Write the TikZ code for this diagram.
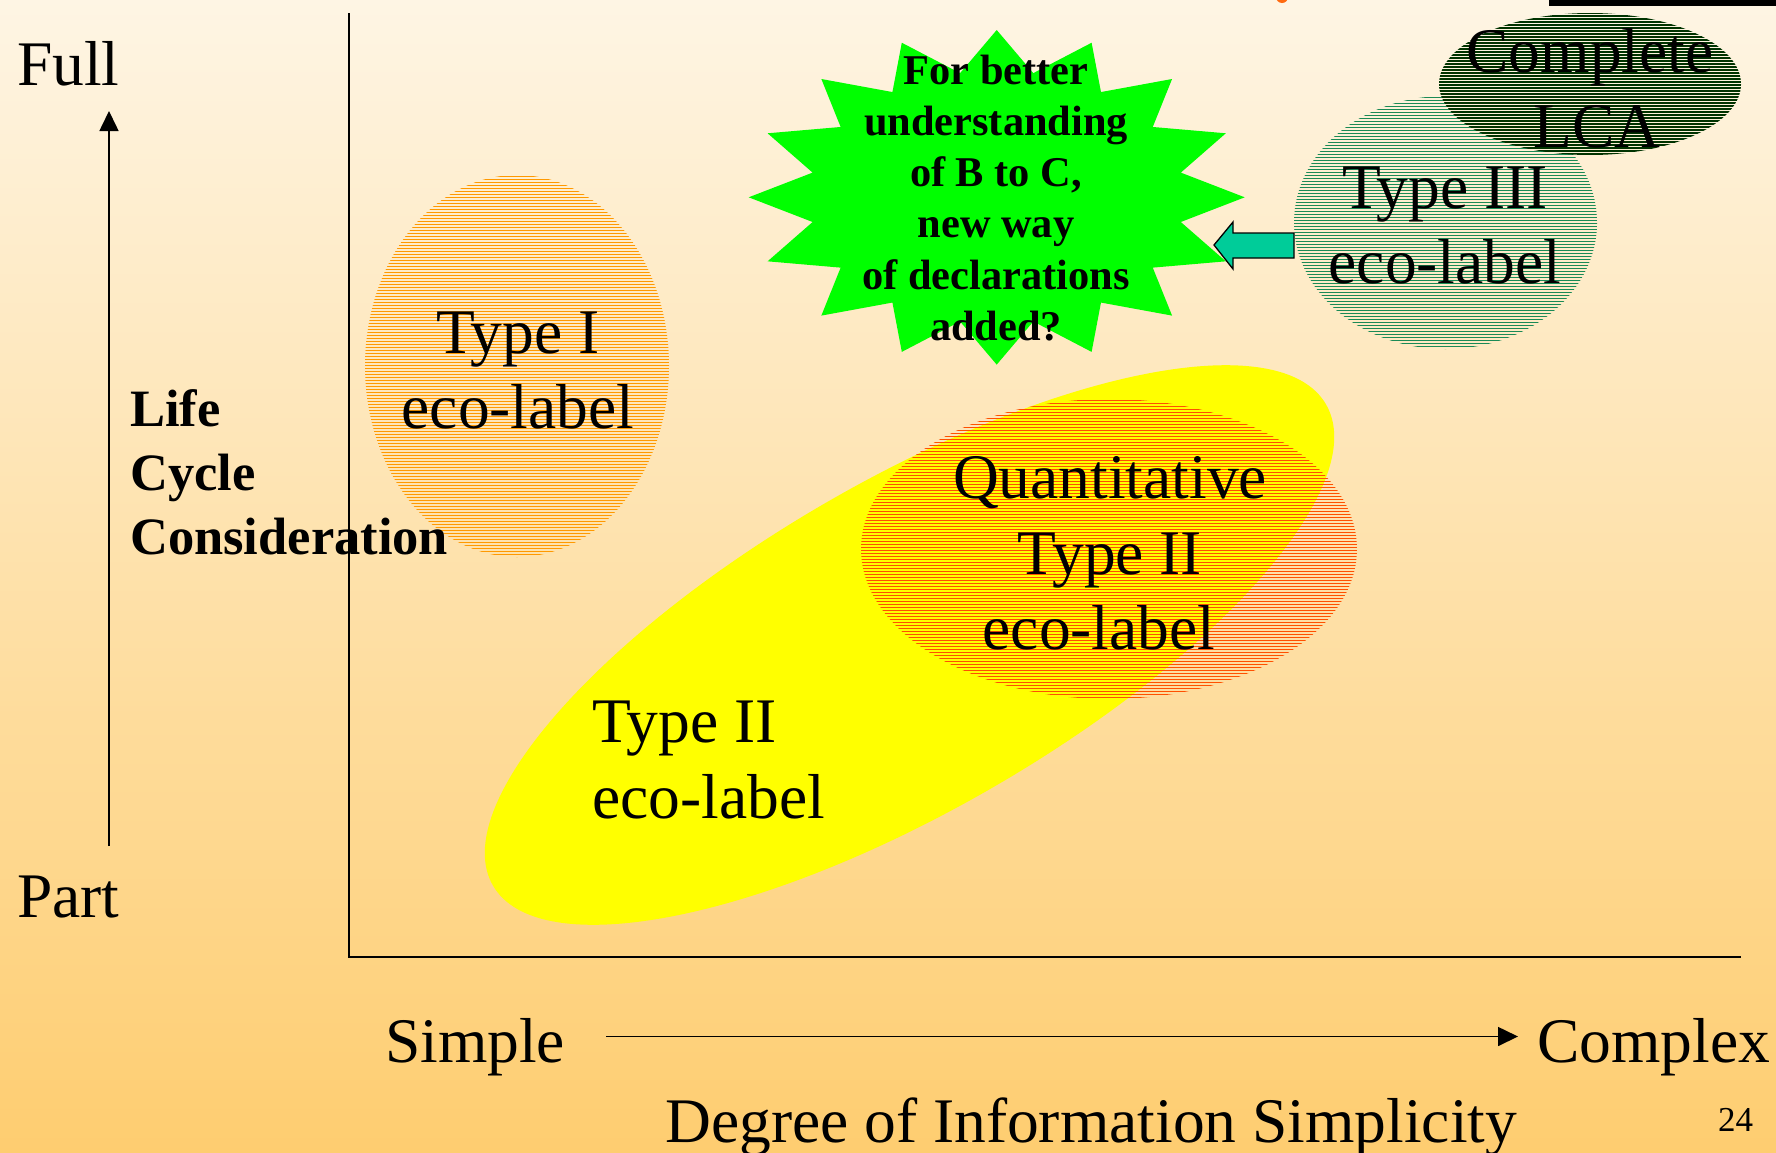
\documentclass[tikz,border=0pt]{standalone}
\usepackage{fontspec}
\setmainfont{Liberation Serif}
\usetikzlibrary{calc,arrows.meta}
\definecolor{bgtop}{HTML}{FEF5E4}
\definecolor{bgbot}{HTML}{FECD70}
\definecolor{blobc}{HTML}{FF6A10}
\definecolor{yel}{HTML}{FFFF00}
\definecolor{burstc}{HTML}{00FF00}
\definecolor{arrc}{HTML}{00CC99}
\definecolor{hOrange}{HTML}{FF9900}
\definecolor{hRed}{HTML}{FF5000}
\definecolor{hGreen}{HTML}{1A8A55}
\definecolor{hDark}{HTML}{003300}
\begin{document}
\begin{tikzpicture}[x=1pt,y=-1pt,
  axis/.style={line width=1.6pt,draw=black},
  tipA/.style={-{Triangle[length=20pt,width=19pt]}},
  lbl/.style={font=\fontsize{63.5}{76}\selectfont,inner sep=0pt,anchor=base},
  lcc/.style={font=\fontsize{52.5}{64}\selectfont\bfseries,inner sep=0pt,anchor=base west},
  bst/.style={font=\fontsize{42.4}{51}\selectfont\bfseries,inner sep=0pt,anchor=base},
  hline/.style={line width=0.9pt,draw=#1}]
\useasboundingbox (0,0) rectangle (1776,1152);
\shade[top color=bgtop,bottom color=bgbot] (0,0) rectangle (1776,1152);
% top decorations
\fill[black] (1549,0) rectangle (1776,6);
\fill[blobc] (1282,-3) circle [radius=6pt];
% axes
\coordinate (yb) at (109,846);
\coordinate (yt) at (109,111);
\draw[axis,tipA] (yb) -- (yt);
\coordinate (ytop) at (349,13);
\coordinate (o) at (349,957);
\coordinate (xr) at (1741,957);
\draw[axis] (ytop) -- (o) -- (xr);
\coordinate (xa) at (606,1036.5);
\coordinate (xb) at (1518,1036.5);
\draw[axis,tipA] (xa) -- (xb);
% yellow ellipse
\fill[yel] (909.5,645) ellipse [x radius=481pt,y radius=165pt,rotate=30];
% hatched ellipses
\begin{scope}
  \clip (1109,549) ellipse [x radius=248pt,y radius=150pt];
  \foreach \yy in {400,403,...,700} \draw[hline=hRed] (860,\yy) -- (1358,\yy);
\end{scope}
\begin{scope}
  \clip (517,366) ellipse [x radius=152pt,y radius=191pt];
  \foreach \yy in {176,179,...,557} \draw[hline=hOrange] (364,\yy) -- (670,\yy);
\end{scope}
\begin{scope}
  \clip (1445.5,222.5) ellipse [x radius=151.5pt,y radius=126.5pt];
  \foreach \yy in {97,100,...,349} \draw[hline=hGreen] (1293,\yy) -- (1598,\yy);
\end{scope}
\begin{scope}
  \clip (1590,84) ellipse [x radius=151pt,y radius=71pt];
  \foreach \yy in {13,16,...,155} \draw[line width=1.4pt,draw=hDark] (1438,\yy) -- (1742,\yy);
\end{scope}
% starburst
\coordinate (sc) at (996.7,197.3);
\fill[burstc] ($(sc)+(90:248 and 167.3)$)
  \foreach \i in {0,...,15} { -- ($(sc)+({101.25+\i*22.5}:187.7 and 126.6)$) -- ($(sc)+({112.5+\i*22.5}:248 and 167.3)$) } -- cycle;
% block arrow
\draw[fill=arrc,line width=1.3pt,line join=miter] (1214,245) -- (1233,222) -- (1233,233) -- (1294,233) -- (1294,258) -- (1233,258) -- (1233,269) -- cycle;
% texts
\node[lbl,anchor=base west] (full) at (17,85) {Full};
\node[lbl,anchor=base west] (part) at (17,917) {Part};
\node[lcc] (life) at (130,426.5) {Life};
\node[lcc] (cycle) at (130,490) {Cycle};
\node[lcc] (consid) at (130,554) {Consideration};
\node[lbl] (t1a) at (518,353) {Type I};
\node[lbl] (t1b) at (518,428) {eco-label};
\node[lbl] (t3a) at (1445,208) {Type III};
\node[lbl] (t3b) at (1445,283) {eco-label};
\node[lbl] (lca1) at (1590,72.5) {Complete};
\node[lbl] (lca2) at (1597,147) {LCA};
\node[lbl] (q1) at (1110,498) {Quantitative};
\node[lbl] (q2) at (1110,574) {Type II};
\node[lbl] (q3) at (1099,649) {eco-label};
\node[lbl,anchor=base west] (t2a) at (592,742) {Type II};
\node[lbl,anchor=base west] (t2b) at (592,818) {eco-label};
\node[bst] (s1) at (996,84) {For better};
\node[bst] (s2) at (996,135) {understanding};
\node[bst] (s3) at (996,186.7) {of B to C,};
\node[bst] (s4) at (996,237.5) {new way};
\node[bst] (s5) at (996,289) {of declarations};
\node[bst] (s6) at (996,340) {added?};
\node[lbl,anchor=base west] (simple) at (385,1062) {Simple};
\node[lbl,anchor=base west] (complex) at (1537,1062) {Complex};
\node[lbl,anchor=base west] (degree) at (665,1142) {Degree of Information Simplicity};
\node[font=\fontsize{35}{42}\selectfont,inner sep=0pt,anchor=base west] (pg) at (1718,1131) {24};
\end{tikzpicture}
\end{document}
